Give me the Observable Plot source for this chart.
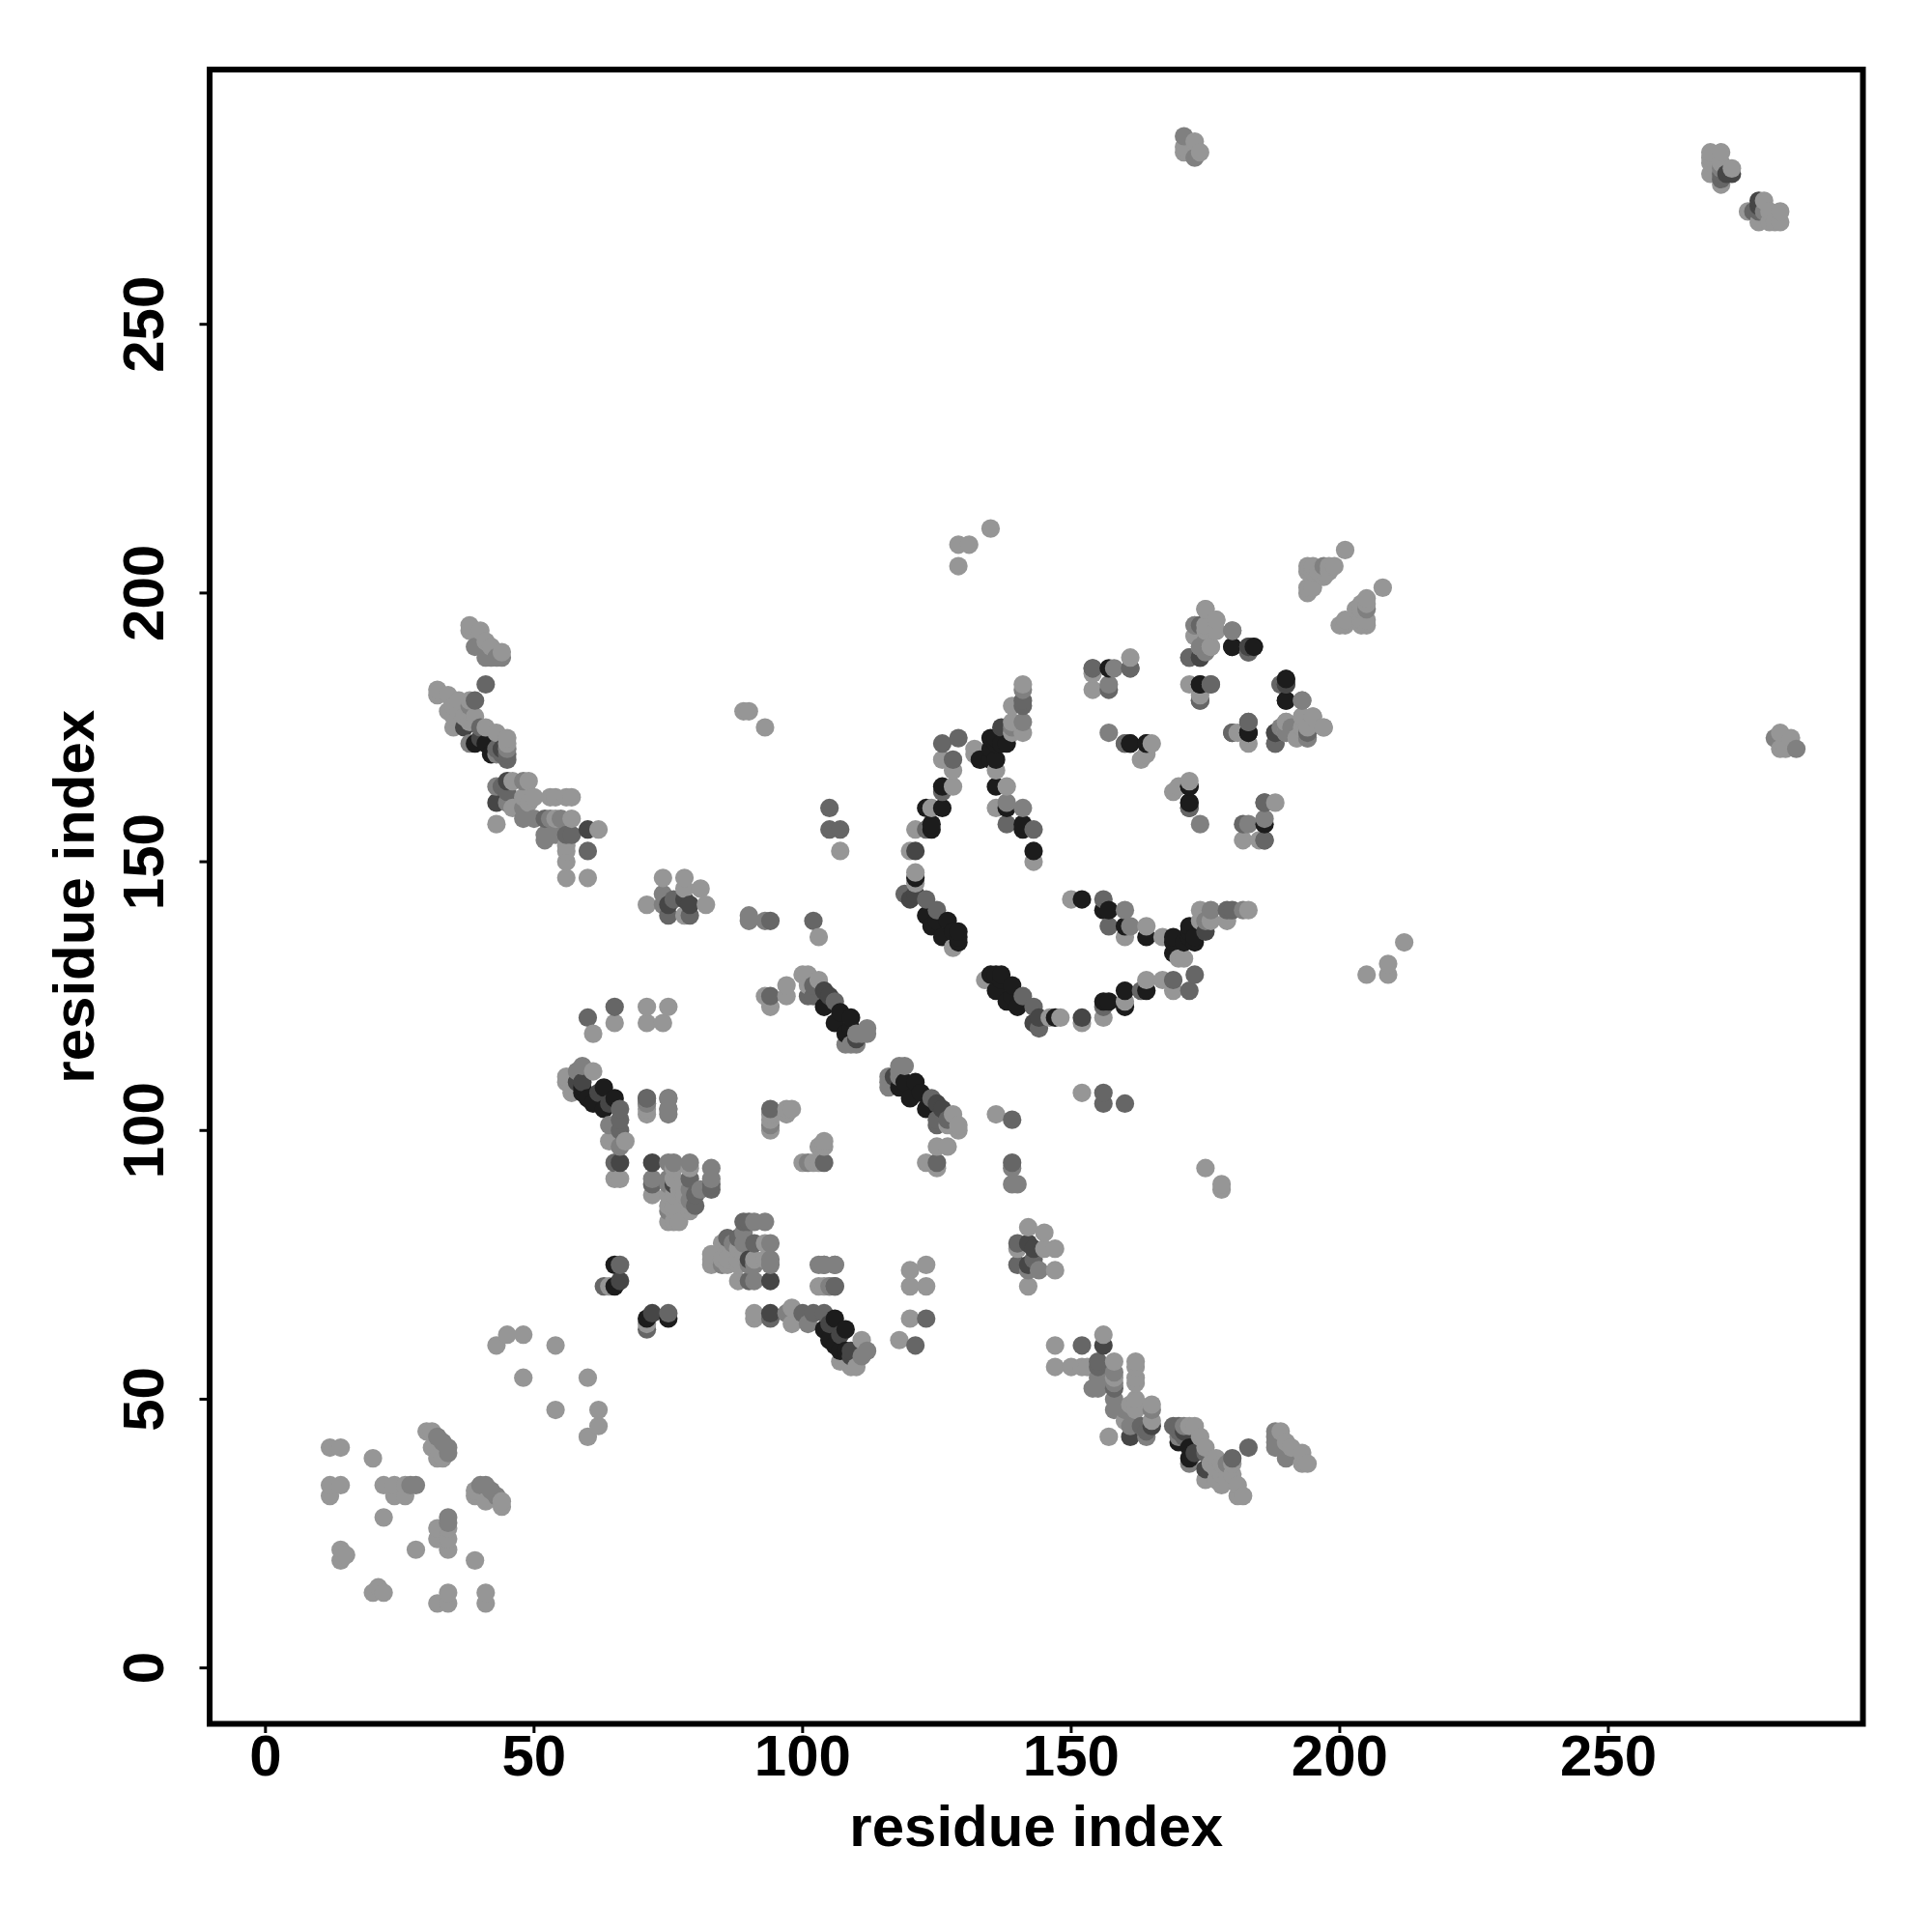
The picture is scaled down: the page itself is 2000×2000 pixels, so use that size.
<!DOCTYPE html>
<html><head><meta charset="utf-8">
<script src="https://cdn.jsdelivr.net/npm/d3@7"></script>
<script src="https://cdn.jsdelivr.net/npm/@observablehq/plot@0.6"></script>
<style>html,body{margin:0;padding:0;background:#fff}</style>
</head><body><div id="chart"></div>
<script>
// Residue contact pairs [i, j] with i < j, one list per grey level; the map is symmetric.
const contactsLightest = [[12,41],[14,41],[12,34],[14,34],[12,32],[20,39],[22,34],[24,34],[24,32],[26,32],[26,34],[14,22],[15,21],[14,20],[22,28],[30,44],[31,44],[31,41],[32,39],[33,39],
[43,60],[45,62],[48,62],[54,60],[48,54],[38,194],[38,193],[40,193],[41,191],[42,190],[44,189],[32,182],[32,181],[34,181],[34,178],[36,178],[35,175],[38,180],[38,176],[41,175],[43,174],[45,172],[36,180],[35,179],[37,177],[38,178],[45,173],[39,177],[35,177],
[43,157],[46,165],[49,165],[48,162],[50,162],[53,162],[54,162],[56,162],[57,162],[57,158],[54,158],[56,152],[56,150],[56,147],[60,147],[62,156],[56,153],[46,160],[49,161],
[61,118],[65,120],[71,123],[75,123],[71,120],[74,120],[71,103],[56,109],[56,110],[57,107],[61,111],[64,98],[67,98],[65,91],[66,91],
[72,88],[76,91],[76,88],[75,88],[75,86],[75,83],[76,83],[77,83],[76,85],[79,85],[79,93],[76,93],[77,89],[78,88],[79,86],[76,86],[71,64],
[94,103],[94,102],[94,100],[97,104],[98,104],[97,103],[93,125],[94,123],[97,127],[97,125],[100,129],[101,129],[103,128],[101,127],[103,136],
[121,148],[121,146],[128,134],[120,152],[121,156],[124,160],[128,164],[128,167],[126,169],[136,167],[138,164],[132,171],[132,170],[136,160],[143,150],[139,179],[139,176],[141,174],[139,174],[141,183],
[163,169],[164,170],[165,172],[172,183],[174,181],[173,192],[175,197],[177,195],[175,194],[177,193],[174,190],[176,190],[190,176],[195,177],[197,175],[193,177],[193,175],[192,173],[161,188],[154,182],[154,185],
[93,175],[89,178],[90,178],[129,209],[131,209],[129,205],[135,212],[107,152],[74,147],[78,147],[81,145],[82,142],[71,142],[78,140],[78,145],[104,71],[105,71],
[194,205],[195,205],[198,205],[199,205],[194,204],[195,204],[196,204],[197,204],[198,204],[194,200],[194,201],[195,201],[201,208],[197,203],[171,283],[171,282],[173,284],[174,282],[269,282],[271,282],[269,281],[269,280],[271,280],[269,278],[273,279],[271,276]];
const contactsLight = [[32,43],[33,42],[34,41],[34,40],[28,34],[27,34],[39,190],[41,188],[43,188],[44,188],[42,188],[38,179],[38,172],[43,170],[45,171],
[43,164],[45,161],[48,165],[48,160],[48,158],[50,158],[53,158],[55,158],[52,154],[52,155],[54,155],[71,105],[75,106],[75,103],[75,104],[58,111],[59,112],[64,101],[66,97],
[72,91],[75,94],[76,94],[75,91],[75,90],[79,94],[79,89],[83,93],[83,91],[81,89],[75,85],[79,87],[94,101],[109,116],[110,118],[112,119],[111,118],[108,116],[112,118],[110,116],
[90,140],[90,139],[93,139],[138,161],[141,160],[74,144],[74,142],[141,176],[139,175],[141,182],[157,183],[158,186],[157,174],[173,194],[180,193],[190,174],[191,175],[189,175],[193,180],[194,173],[197,205],[104,75],[106,75],[271,279],[171,285],[173,281]];
const contactsMedium = [[41,183],[39,180],[45,169],[40,175],[44,170],[45,170],[43,171],[44,164],[45,163],[52,158],[56,155],[57,155],[60,152],[60,121],[65,123],[71,106],[66,104],[66,102],[66,100],[65,94],
[72,90],[79,91],[80,88],[80,86],[83,89],[83,90],[63,71],[66,75],[94,104],[94,125],[101,125],[102,127],[102,125],[106,124],[94,139],[102,139],[105,160],[105,156],[107,156],
[125,141],[123,143],[119,144],[126,163],[128,169],[126,172],[129,173],[123,156],[75,140],[79,140],[76,143],[141,179],[141,180],[138,157],[143,156],[160,172],[172,160],[161,186],[154,186],[157,182],[172,188],[176,183],[174,180],[180,174],[183,176],[188,172],[186,161],[189,183],[194,174],[183,189],[106,71],[186,154],[271,278],[271,277]];
const contactsDark = [[43,161],[45,165],[37,175],[40,173],[44,171],[60,156],[66,94],[72,94],[76,90],[59,109],[62,107],[64,105],[58,109],[66,72],[104,126],[105,125],[110,117],[121,144],[120,143],[121,152],[75,142],[79,142],[78,143],[137,175],[174,188],[183,190],[184,190],[190,183],[188,174],[272,278],[273,278]];
const contactsDarkest = [[42,170],[41,172],[39,172],[63,108],[65,106],[60,106],[63,104],[59,108],[59,107],[61,105],[65,71],[65,75],[109,121],[104,123],[106,120],[108,118],[107,122],[109,119],[129,135],[129,136],[129,137],[128,137],[127,139],[126,136],[125,139],[124,138],[123,140],[121,147],[124,156],[124,157],[126,160],[123,160],[126,164],[133,169],[135,169],[136,169],[135,171],[135,173],[136,172],[136,173],[137,172],[138,172],[136,164],[141,156],[141,157],[143,152],[138,160],[161,172],[164,172],[172,164],[172,161],[174,183],[183,174],[157,186],[180,190],[190,184],[190,180]];

const greyLevels = ["#969696", "#808080", "#666666", "#464646", "#1c1c1c"];
const tickValues = [0, 50, 100, 150, 200, 250];
const axisTitle = "residue index";

const rows = [];
[contactsLightest, contactsLight, contactsMedium, contactsDark, contactsDarkest].forEach((list, level) => {
  for (const [i, j] of list) {
    rows.push({x: i, y: j, grey: greyLevels[level]});
    rows.push({x: j, y: i, grey: greyLevels[level]});
  }
});
rows.sort((a, b) => a.x - b.x || a.y - b.y);

const font = "'Liberation Sans', Arial, sans-serif";
const chart = Plot.plot({
  width: 2000, height: 2000,
  marginLeft: 216.5, marginRight: 72, marginTop: 71.5, marginBottom: 216,
  x: {domain: [-10.4, 297.4]},
  y: {domain: [-10.4, 297.4]},
  style: {background: "#fff", fontFamily: font},
  marks: [
    Plot.dot(rows, {x: "x", y: "y", r: 9.6, fill: d => d.grey, stroke: "none"}),
    Plot.frame({stroke: "#000", strokeWidth: 6}),
    Plot.axisX({ticks: tickValues, tickSize: 10, tickPadding: 1, tickFormat: d => d, fontSize: 60, fontWeight: 700, strokeWidth: 3, label: axisTitle, labelAnchor: "center", labelArrow: "none", labelOffset: 126}),
    Plot.axisY({ticks: tickValues, tickSize: 10, tickPadding: 38, tickRotate: -90, tickFormat: d => d, fontSize: 60, fontWeight: 700, strokeWidth: 3, label: axisTitle, labelAnchor: "center", labelArrow: "none", labelOffset: 163})
  ]
});
document.getElementById("chart").appendChild(chart);
</script></body></html>
